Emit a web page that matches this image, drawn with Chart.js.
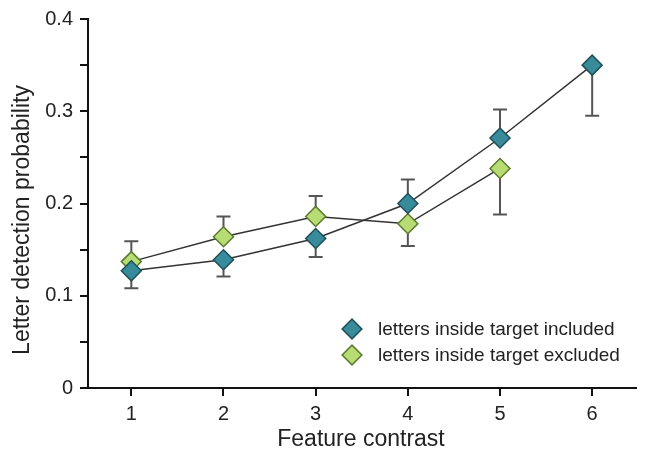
<!DOCTYPE html>
<html>
<head>
<meta charset="utf-8">
<script src="https://cdn.jsdelivr.net/npm/chart.js@4/dist/chart.umd.min.js"></script>
<style>
  html, body { margin: 0; padding: 0; background: #fff; }
  #wrap { position: relative; width: 647px; height: 452px; }
</style>
</head>
<body>
<div id="wrap"><canvas id="chart" width="647" height="452"></canvas></div>
<script>
// data
const contrast = [1, 2, 3, 4, 5, 6];
const included = [0.127, 0.139, 0.162, 0.200, 0.271, 0.350];
const includedErr = [0.108, 0.121, 0.142, 0.226, 0.302, 0.295]; // whisker end
const excluded = [0.137, 0.164, 0.186, 0.178, 0.238];
const excludedErr = [0.159, 0.186, 0.208, 0.154, 0.188];
const yTicks = [0, 0.1, 0.2, 0.3, 0.4];
const xTitle = 'Feature contrast';
const yTitle = 'Letter detection probability';

const FONT = "'Liberation Sans', Arial, sans-serif";
const INK = '#222';

function pts(ys) {
    return ys.map((y, i) => ({x: contrast[i], y: y}));
}

// error bars, drawn under the markers
const errorBars = {
    id: 'errorBars',
    beforeDatasetsDraw(chart) {
        const ctx = chart.ctx;
        const xs = chart.scales.x, ys = chart.scales.y;
        chart.data.datasets.forEach(ds => {
            ctx.save();
            ctx.strokeStyle = '#555';
            ctx.lineWidth = 2;
            ds.data.forEach((p, i) => {
                const px = xs.getPixelForValue(p.x);
                const py = ys.getPixelForValue(p.y);
                const pe = ys.getPixelForValue(ds.errEnd[i]);
                ctx.beginPath();
                ctx.moveTo(px, py);
                ctx.lineTo(px, pe);
                ctx.moveTo(px - 7, pe);
                ctx.lineTo(px + 7, pe);
                ctx.stroke();
            });
            ctx.restore();
        });
    }
};

// legend inside the plot plus the two axis titles
const decorations = {
    id: 'decorations',
    afterDraw(chart) {
        const ctx = chart.ctx;
        const a = chart.chartArea;
        const mx = a.left + 264, tx = a.left + 290;
        chart.data.datasets.forEach((ds, i) => {
            const y = a.top + 310 + i * 26;
            ctx.save();
            ctx.translate(mx, y);
            ctx.rotate(Math.PI / 4);
            ctx.fillStyle = ds.pointBackgroundColor;
            ctx.strokeStyle = ds.pointBorderColor;
            ctx.lineWidth = 1.5;
            ctx.fillRect(-7, -7, 14, 14);
            ctx.strokeRect(-7, -7, 14, 14);
            ctx.restore();
            ctx.save();
            ctx.fillStyle = INK;
            ctx.font = '19px ' + FONT;
            ctx.textBaseline = 'middle';
            ctx.fillText(ds.label, tx, y + 1);
            ctx.restore();
        });

        ctx.save();
        ctx.fillStyle = INK;
        ctx.font = '23px ' + FONT;
        ctx.textAlign = 'center';
        ctx.textBaseline = 'middle';
        ctx.fillText(xTitle, 361, 440);
        ctx.translate(23, 220);
        ctx.rotate(-Math.PI / 2);
        ctx.fillText(yTitle, 0, 0);
        ctx.restore();
    }
};

const ctx = document.getElementById('chart').getContext('2d');
new Chart(ctx, {
    type: 'scatter',
    data: {
        datasets: [{
            label: 'letters inside target included',
            data: pts(included),
            errEnd: includedErr,
            showLine: true,
            borderColor: '#333',
            borderWidth: 1.5,
            pointStyle: 'rectRot',
            pointRadius: 10,
            pointBackgroundColor: '#388b9b',
            pointBorderColor: '#1f5058',
            pointBorderWidth: 1.5
        }, {
            label: 'letters inside target excluded',
            data: pts(excluded),
            errEnd: excludedErr,
            showLine: true,
            borderColor: '#333',
            borderWidth: 1.5,
            pointStyle: 'rectRot',
            pointRadius: 10,
            pointBackgroundColor: '#b7dc74',
            pointBorderColor: '#5c7a2e',
            pointBorderWidth: 1.5
        }]
    },
    options: {
        responsive: false,
        animation: false,
        layout: { padding: { top: 18, right: 2, left: 0, bottom: 0 } },
        plugins: {
            legend: { display: false },
            tooltip: { enabled: false }
        },
        scales: {
            x: {
                type: 'linear',
                min: 0.53,
                max: 6.47,
                afterBuildTicks(scale) {
                    scale.ticks = contrast.map(v => ({value: v}));
                },
                afterFit(scale) { scale.height = 64; },
                grid: { drawOnChartArea: false, color: '#111', lineWidth: 2, tickLength: 8 },
                border: { color: '#111', width: 2 },
                ticks: { color: INK, font: { family: FONT, size: 20 }, padding: 6 }
            },
            y: {
                min: 0,
                max: 0.4,
                afterBuildTicks(scale) {
                    const t = [];
                    for (let i = 0; i <= 8; i++) t.push({value: i * 0.05});
                    scale.ticks = t;
                },
                afterFit(scale) { scale.width = 88; },
                grid: { drawOnChartArea: false, color: '#111', lineWidth: 2, tickLength: 8 },
                border: { color: '#111', width: 2 },
                ticks: {
                    color: INK,
                    font: { family: FONT, size: 20 },
                    padding: 7,
                    callback(v) {
                        const hit = yTicks.find(t => Math.abs(t - v) < 1e-6);
                        return hit === undefined ? '' : String(hit);
                    }
                }
            }
        }
    },
    plugins: [errorBars, decorations]
});
</script>
</body>
</html>
